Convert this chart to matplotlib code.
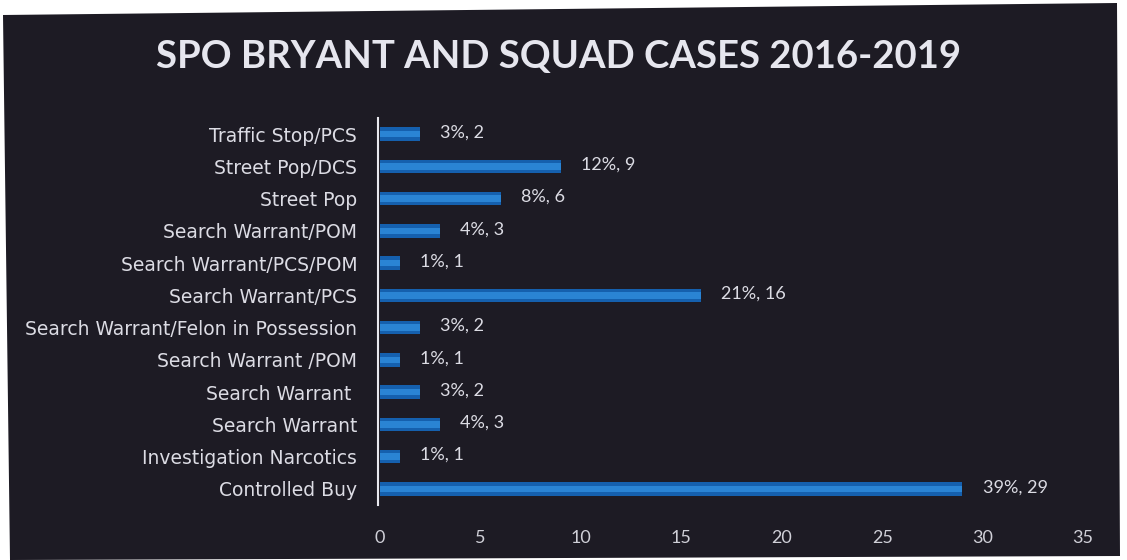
import matplotlib
matplotlib.use("Agg")
import matplotlib.pyplot as plt
from matplotlib.patches import Polygon

# categories top to bottom, as in the chart
categories = [
    "Traffic Stop/PCS",
    "Street Pop/DCS",
    "Street Pop",
    "Search Warrant/POM",
    "Search Warrant/PCS/POM",
    "Search Warrant/PCS",
    "Search Warrant/Felon in Possession",
    "Search Warrant /POM",
    "Search Warrant ",
    "Search Warrant",
    "Investigation Narcotics",
    "Controlled Buy",
]
cases = [2, 9, 6, 3, 1, 16, 2, 1, 2, 3, 1, 29]
x_ticks = [0, 5, 10, 15, 20, 25, 30, 35]
title = "SPO BRYANT AND SQUAD CASES 2016-2019"

total = sum(cases)
bg = "#1d1b24"
text_col = "#dcdce4"
font = ["Lato", "DejaVu Sans"]

fig = plt.figure(figsize=(11.27, 5.6), dpi=100, facecolor="white")

# the dark slide, slightly skewed like the scan
W, H = 1127, 560
corners = [(3, 15), (1117, 3), (1120, 556), (10, 560)]
fig.patches.append(Polygon([(x / W, 1 - y / H) for x, y in corners],
                           closed=True, transform=fig.transFigure,
                           facecolor=bg, edgecolor="none", zorder=-5))

fig.text(0.496, 1 - 57 / H, title, ha="center", va="center",
         fontsize=27.5, color="#e6e6ee", family=font, fontweight="bold")

ax = fig.add_axes([380 / W, 1 - 505 / H, 703 / W, 387 / H])
ax.set_facecolor("none")

ypos = list(range(len(categories)))[::-1]
# bar body plus a lighter core to mimic the bevelled bars
ax.barh(ypos, cases, height=0.42, color="#1560ae", zorder=2)
ax.barh(ypos, cases, height=0.2, color="#2a84d4", zorder=3)

for y, v in zip(ypos, cases):
    pct = round(100 * v / total)
    ax.text(v + 1.0, y + 0.05, f"{pct}%, {v}", va="center", ha="left",
            fontsize=13, color=text_col, family=font)

ax.set_xlim(0, 35)
ax.set_ylim(-0.5, len(categories) - 0.5)
ax.set_xticks(x_ticks)
ax.set_yticks(ypos)
ax.set_yticklabels(categories)
ax.tick_params(axis="x", length=0, pad=18, labelsize=13, labelcolor="#d0d0d8")
ax.tick_params(axis="y", length=0, pad=15, labelsize=13.5, labelcolor=text_col)
for lab in ax.get_xticklabels() + ax.get_yticklabels():
    lab.set_family(font)

for side in ["top", "right", "bottom"]:
    ax.spines[side].set_visible(False)
ax.spines["left"].set_color("#e8e8ee")
ax.spines["left"].set_linewidth(1.5)
ax.spines["left"].set_position(("data", -0.1))

fig.savefig("out.png", dpi=100, facecolor=fig.get_facecolor())
